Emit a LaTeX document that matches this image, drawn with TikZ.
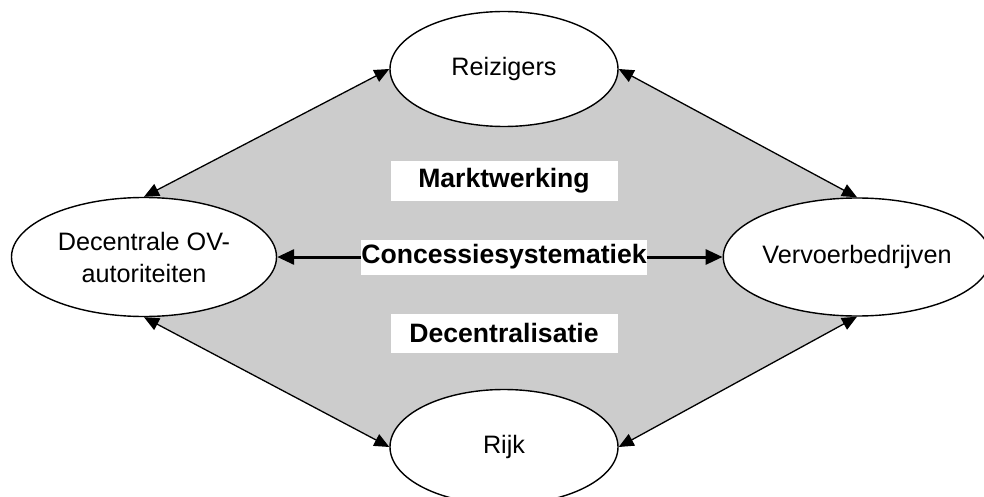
\documentclass[tikz,border=0pt]{standalone}
\usepackage{fontspec}
\setmainfont{Liberation Sans}
\usetikzlibrary{shapes.geometric,arrows.meta,backgrounds}
\definecolor{diamondgray}{HTML}{CCCCCC}
\tikzset{
  actor/.style={ellipse,draw=black,line width=1.4pt,fill=white,inner sep=0pt,align=center,
    font=\fontsize{25.2}{32}\selectfont},
  labelbox/.style={fill=white,inner sep=0pt,font=\bfseries\fontsize{26.6}{30}\selectfont},
  thinarrow/.style={line width=1.3pt,{Triangle[length=15pt,width=13pt]}-{Triangle[length=15pt,width=13pt]}},
  thickarrow/.style={line width=3pt,-{Triangle[length=17pt,width=15pt]}}
}
\begin{document}
\begin{tikzpicture}[x=1pt,y=-1pt]
\useasboundingbox (0,0) rectangle (984,497);
\node[actor,minimum width=228,minimum height=115] (reiz) at (504,69) {Reizigers};
\node[actor,minimum width=265,minimum height=119] (ov) at (144,257) {Decentrale OV-\\autoriteiten};
\node[actor,minimum width=254,minimum height=118] (verv) at (857,257) {Vervoerbedrijven};
\node[actor,minimum width=228,minimum height=115] (rijk) at (504,447) {Rijk};
\node[labelbox,minimum width=227,minimum height=39] (markt) at (504,181) {Marktwerking};
\node[labelbox,minimum width=227,minimum height=39] (decen) at (504,333) {Decentralisatie};
\node[labelbox,minimum width=280,minimum height=35] (conc) at (504,257) {Concessiesystematiek};
\begin{scope}[on background layer]
\fill[diamondgray] (ov.north) -- (reiz.west) -- (reiz.east) -- (verv.north) -- (verv.south) -- (rijk.east) -- (rijk.west) -- (ov.south) -- cycle;
\end{scope}
\draw[thinarrow] (ov.north) -- (reiz.west);
\draw[thinarrow] (reiz.east) -- (verv.north);
\draw[thinarrow] (verv.south) -- (rijk.east);
\draw[thinarrow] (rijk.west) -- (ov.south);
\draw[thickarrow] (conc.west) -- (ov.east);
\draw[thickarrow] (conc.east) -- (verv.west);
\end{tikzpicture}
\end{document}
